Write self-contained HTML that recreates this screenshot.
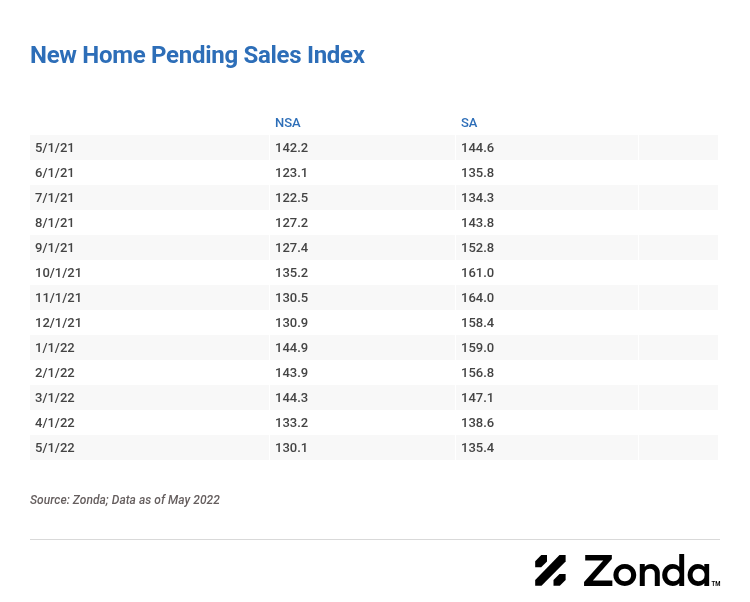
<!DOCTYPE html>
<html>
<head>
<meta charset="utf-8">
<style>
html,body{margin:0;padding:0;background:#fff;}
body{width:750px;height:602px;overflow:hidden;position:relative;font-family:Roboto,"Liberation Sans",sans-serif;}
h1{position:absolute;left:30px;top:39px;margin:0;font-size:24px;font-weight:700;color:#2d6eb8;line-height:32px;white-space:nowrap;letter-spacing:-0.29px;}
.tbl{position:absolute;left:30px;top:110px;}
.hdr{position:absolute;top:0;height:25px;font-size:13px;font-weight:500;color:#2d6eb8;line-height:25px;}
.row{position:absolute;left:0;width:688px;height:25px;}
.c{position:absolute;top:0;height:25px;line-height:25px;font-size:13px;font-weight:500;color:#444;box-sizing:border-box;padding-left:5px;}
.sh .c{background:#f8f8f8;}
.c1{left:0;width:239px;}
.c2{left:240px;width:185px;}
.c3{left:426px;width:182px;}
.c4{left:609px;width:79px;}
.src{position:absolute;left:30px;top:492px;font-size:12px;letter-spacing:0.04px;font-style:italic;font-weight:500;color:#655e5e;line-height:16px;white-space:nowrap;}
.rule{position:absolute;left:30px;top:539px;width:690px;height:1px;background:#d9d9d9;}
.logo{position:absolute;left:530px;top:550px;}
.zl{position:absolute;left:0;font-family:Outfit,"Liberation Sans",sans-serif;font-weight:600;font-size:43.7px;line-height:1;color:#000;transform-origin:0 0;white-space:nowrap;}
.tm{position:absolute;left:0;top:0;font-family:Roboto,"Liberation Sans",sans-serif;font-weight:700;font-size:7px;line-height:1;color:#000;transform-origin:0 0;transform:translate(711.5px,580.5px) scale(0.85,1);white-space:nowrap;}
</style>
</head>
<body>
<h1>New Home Pending Sales Index</h1>
<div class="tbl">
  <div class="hdr" style="left:245px">NSA</div>
  <div class="hdr" style="left:431px">SA</div>
  <div class="row sh" style="top:25px"><div class="c c1">5/1/21</div><div class="c c2">142.2</div><div class="c c3">144.6</div><div class="c c4"></div></div>
  <div class="row" style="top:50px"><div class="c c1">6/1/21</div><div class="c c2">123.1</div><div class="c c3">135.8</div><div class="c c4"></div></div>
  <div class="row sh" style="top:75px"><div class="c c1">7/1/21</div><div class="c c2">122.5</div><div class="c c3">134.3</div><div class="c c4"></div></div>
  <div class="row" style="top:100px"><div class="c c1">8/1/21</div><div class="c c2">127.2</div><div class="c c3">143.8</div><div class="c c4"></div></div>
  <div class="row sh" style="top:125px"><div class="c c1">9/1/21</div><div class="c c2">127.4</div><div class="c c3">152.8</div><div class="c c4"></div></div>
  <div class="row" style="top:150px"><div class="c c1">10/1/21</div><div class="c c2">135.2</div><div class="c c3">161.0</div><div class="c c4"></div></div>
  <div class="row sh" style="top:175px"><div class="c c1">11/1/21</div><div class="c c2">130.5</div><div class="c c3">164.0</div><div class="c c4"></div></div>
  <div class="row" style="top:200px"><div class="c c1">12/1/21</div><div class="c c2">130.9</div><div class="c c3">158.4</div><div class="c c4"></div></div>
  <div class="row sh" style="top:225px"><div class="c c1">1/1/22</div><div class="c c2">144.9</div><div class="c c3">159.0</div><div class="c c4"></div></div>
  <div class="row" style="top:250px"><div class="c c1">2/1/22</div><div class="c c2">143.9</div><div class="c c3">156.8</div><div class="c c4"></div></div>
  <div class="row sh" style="top:275px"><div class="c c1">3/1/22</div><div class="c c2">144.3</div><div class="c c3">147.1</div><div class="c c4"></div></div>
  <div class="row" style="top:300px"><div class="c c1">4/1/22</div><div class="c c2">133.2</div><div class="c c3">138.6</div><div class="c c4"></div></div>
  <div class="row sh" style="top:325px"><div class="c c1">5/1/22</div><div class="c c2">130.1</div><div class="c c3">135.4</div><div class="c c4"></div></div>
</div>
<div class="src">Source: Zonda; Data as of May 2022</div>
<div class="rule"></div>
<svg class="logo" width="40" height="40" viewBox="530 550 40 40">
  <path d="M535.2 561.3 L541.3 555 L547 555 L547 561.5 L541.2 567.3 L535.2 567.3 Z" fill="#000"/>
  <path d="M535.2 580.1 L559.5 555 L565.6 555 L565.6 561.5 L541.5 585.8 L535.2 585.8 Z" fill="#000"/>
  <path d="M553.5 580.1 L559.5 574.1 L565.6 574.1 L565.6 579.9 L559.8 585.8 L553.5 585.8 Z" fill="#000"/>
</svg>
<span class="zl" style="top:548px;font-family:'Lexend Mega',Outfit,'Liberation Sans',sans-serif;font-size:44.12px;font-weight:500;transform:translateX(580.14px) scaleX(1.0009)">Z</span>
<span class="zl" style="top:548px;font-weight:500;transform:translateX(612.07px) scale(1.0409,1.0046)">o</span>
<span class="zl" style="top:547px;font-weight:500;transform:translateX(636.99px) scale(1.0437,1.0187)">n</span>
<span class="zl" style="top:548px;font-weight:500;transform:translateX(660.71px) scale(1.0334,1.0)">d</span>
<span class="zl" style="top:548px;font-weight:500;transform:translateX(686.26px) scale(1.0112,1.0092)">a</span>
<span class="tm">TM</span>
</body>
</html>
